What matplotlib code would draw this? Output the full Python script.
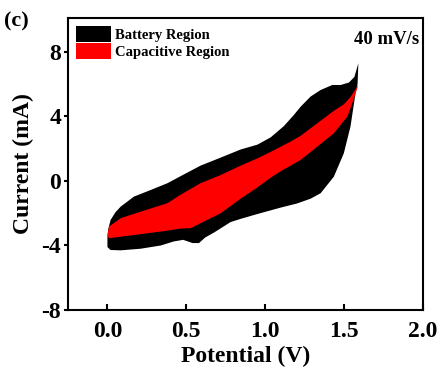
import matplotlib
matplotlib.use('Agg')
import matplotlib.pyplot as plt
from matplotlib.patches import Patch

# Battery region (full CV loop), forward branch then reverse branch
battery_fwd_x = [0.00, 0.005, 0.02, 0.05, 0.084, 0.168, 0.274, 0.38, 0.464, 0.59, 0.718, 0.844,
                 0.95, 1.034, 1.118, 1.182, 1.224, 1.287, 1.351, 1.425, 1.478, 1.53, 1.565, 1.59]
battery_fwd_y = [-3.45, -3.0, -2.42, -1.95, -1.59, -0.97, -0.56, -0.14, 0.30, 0.95, 1.45, 1.95,
                 2.25, 2.70, 3.40, 4.10, 4.60, 5.23, 5.64, 5.95, 5.95, 6.10, 6.45, 7.30]
battery_rev_x = [1.585, 1.572, 1.54, 1.498, 1.435, 1.351, 1.287, 1.20, 1.098, 0.95, 0.844, 0.78,
                 0.675, 0.62, 0.58, 0.54, 0.48, 0.42, 0.338, 0.211, 0.084, 0.02, 0.00]
battery_rev_y = [6.00, 5.44, 3.37, 1.72, 0.27, -0.76, -1.10, -1.40, -1.65, -2.05, -2.35, -2.55,
                 -3.20, -3.50, -3.85, -3.85, -3.65, -3.75, -4.00, -4.20, -4.30, -4.28, -4.10]

# Capacitive region
cap_fwd_x = [0.00, 0.01, 0.084, 0.211, 0.38, 0.464, 0.59, 0.718, 0.844, 0.95, 1.034, 1.16,
             1.224, 1.33, 1.435, 1.498, 1.54, 1.59]
cap_fwd_y = [-3.35, -2.83, -2.31, -1.90, -1.38, -0.85, -0.14, 0.37, 0.95, 1.40, 1.80, 2.44,
             2.80, 3.58, 4.35, 4.75, 5.20, 5.95]
cap_rev_x = [1.552, 1.52, 1.435, 1.33, 1.224, 1.098, 1.034, 0.95, 0.844, 0.718, 0.59, 0.527,
             0.464, 0.38, 0.168, 0.01]
cap_rev_y = [4.82, 3.99, 2.96, 2.13, 1.30, 0.60, 0.20, -0.40, -1.10, -2.00, -2.62, -2.93,
             -2.95, -3.08, -3.35, -3.55]

x_ticks = [0.0, 0.5, 1.0, 1.5, 2.0]
y_ticks = [-8, -4, 0, 4, 8]

plt.rcParams['font.family'] = ['Liberation Serif', 'DejaVu Serif']
plt.rcParams['font.weight'] = 'bold'
plt.rcParams['axes.unicode_minus'] = False

fig = plt.figure(figsize=(4.4, 3.76), dpi=100)
ax = fig.add_axes([0.1545, 0.1755, 0.807, 0.7765])

ax.fill(battery_fwd_x + battery_rev_x, battery_fwd_y + battery_rev_y,
        color='black', lw=0)
ax.fill(cap_fwd_x + cap_rev_x, cap_fwd_y + cap_rev_y, color='#ff0000', lw=0)

ax.set_xlim(-0.25, 2.0)
ax.set_ylim(-8, 10.1)
ax.set_xticks(x_ticks)
ax.set_xticklabels(['%.1f' % t for t in x_ticks])
ax.set_yticks(y_ticks)
ax.set_yticklabels([str(t) for t in y_ticks])

for s in ax.spines.values():
    s.set_linewidth(1.5)
ax.tick_params(axis='x', direction='in', length=4, width=1.5, labelsize=17, pad=8)
ax.tick_params(axis='y', direction='out', length=3, width=1.5, labelsize=17, pad=2)

ax.set_xlabel('Potential (V)', fontsize=17, fontweight='bold', labelpad=3)
ax.set_ylabel('Current (mA)', fontsize=17, fontweight='bold', labelpad=5)

handles = [Patch(facecolor='black', label='Battery Region'),
           Patch(facecolor='#ff0000', label='Capacitive Region')]
ax.legend(handles=handles, loc='upper left', frameon=False, fontsize=10.5,
          handlelength=2.4, handleheight=1.3, handletextpad=0.3,
          borderaxespad=0.25, labelspacing=0.1, borderpad=0.3)

ax.text(0.99, 0.955, '40 mV/s', transform=ax.transAxes, ha='right', va='top',
        fontsize=13.5, fontweight='bold')
fig.text(0.01, 0.97, '(c)', ha='left', va='top', fontsize=16, fontweight='bold')

fig.savefig('out.png', dpi=100)
